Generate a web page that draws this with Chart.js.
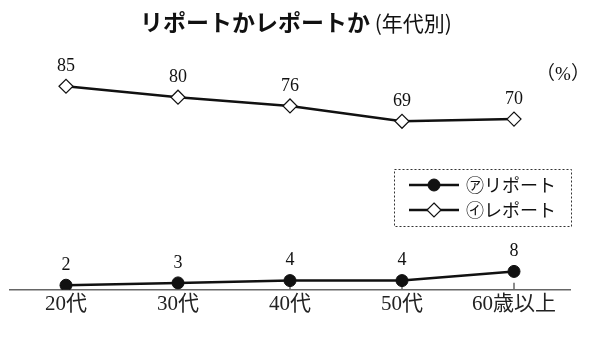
<!DOCTYPE html>
<html>
<head>
<meta charset="utf-8">
<script src="https://cdn.jsdelivr.net/npm/chart.js@4"></script>
<style>
  html, body { margin: 0; padding: 0; background: #fff; }
  #wrap { width: 600px; height: 341px; }
</style>
</head>
<body>
<div id="wrap"><canvas id="chart"></canvas></div>
<script>
const categories = ['20代', '30代', '40代', '50代', '60歳以上'];
const reportA = [2, 3, 4, 4, 8];       // ㋐リポート
const reportI = [85, 80, 76, 69, 70];  // ㋑レポート
const seriesNames = ['㋐リポート', '㋑レポート'];

const serif = "'Liberation Serif', 'Noto Sans CJK JP', serif";
const gothic = "'Noto Sans CJK JP', sans-serif";

// title, unit, value labels, tick marks and legend box
const decor = {
  id: 'decor',
  beforeDatasetsDraw(chart) {
    const ctx = chart.ctx;
    const x = chart.scales.x;
    const base = chart.chartArea.bottom;
    ctx.save();
    ctx.strokeStyle = '#666';
    ctx.lineWidth = 1.5;
    categories.forEach((c, i) => {
      const px = x.getPixelForValue(i);
      ctx.beginPath();
      ctx.moveTo(px, base);
      ctx.lineTo(px, base - 7);
      ctx.stroke();
    });
    ctx.restore();
  },
  afterDatasetsDraw(chart) {
    const ctx = chart.ctx;
    ctx.save();

    // title
    const t1 = 'リポートかレポートか';
    const t2 = ' (年代別)';
    ctx.textBaseline = 'middle';
    ctx.fillStyle = '#111';
    ctx.font = 'bold 23px ' + gothic;
    const w1 = ctx.measureText(t1).width;
    ctx.font = '21px ' + gothic;
    const w2 = ctx.measureText(t2).width;
    const tx = 296 - (w1 + w2) / 2;
    ctx.font = 'bold 23px ' + gothic;
    ctx.textAlign = 'left';
    ctx.fillText(t1, tx, 22);
    ctx.font = '21px ' + gothic;
    ctx.fillText(t2, tx + w1, 23);

    // unit
    ctx.font = '19px ' + serif;
    ctx.textAlign = 'center';
    ctx.fillText('（%）', 563, 75);

    // value labels
    ctx.font = '18px ' + serif;
    chart.data.datasets.forEach((ds, di) => {
      chart.getDatasetMeta(di).data.forEach((pt, i) => {
        ctx.fillText(String(ds.data[i]), pt.x, pt.y - 20);
      });
    });

    // legend
    const lx = 394, ly = 169, lw = 177, lh = 57;
    ctx.setLineDash([2, 2]);
    ctx.strokeStyle = '#333';
    ctx.lineWidth = 1;
    ctx.strokeRect(lx + 0.5, ly + 0.5, lw, lh);
    ctx.setLineDash([]);
    const rows = [185, 210];
    chart.data.datasets.forEach((ds, di) => {
      const y = rows[di];
      ctx.strokeStyle = ds.borderColor;
      ctx.lineWidth = ds.borderWidth;
      ctx.beginPath();
      ctx.moveTo(409, y);
      ctx.lineTo(459, y);
      ctx.stroke();
      ctx.fillStyle = ds.pointBackgroundColor;
      ctx.strokeStyle = ds.pointBorderColor;
      ctx.lineWidth = ds.pointBorderWidth;
      ctx.beginPath();
      const r = ds.pointRadius;
      if (ds.pointStyle === 'circle') {
        ctx.arc(434, y, r, 0, Math.PI * 2);
      } else {
        ctx.moveTo(434, y - r); ctx.lineTo(434 + r, y);
        ctx.lineTo(434, y + r); ctx.lineTo(434 - r, y); ctx.closePath();
      }
      ctx.fill();
      ctx.stroke();
      ctx.fillStyle = '#111';
      ctx.font = '18px ' + gothic;
      ctx.textAlign = 'left';
      ctx.fillText(ds.label, 466, y);
    });
    ctx.restore();
  }
};

new Chart(document.getElementById('chart'), {
  type: 'line',
  data: {
    labels: categories,
    datasets: [
      {
        label: seriesNames[0],
        data: reportA,
        yAxisID: 'yLow',
        borderColor: '#111',
        borderWidth: 2.5,
        pointStyle: 'circle',
        pointRadius: 6,
        pointBackgroundColor: '#111',
        pointBorderColor: '#111',
        pointBorderWidth: 1
      },
      {
        label: seriesNames[1],
        data: reportI,
        yAxisID: 'yHigh',
        borderColor: '#111',
        borderWidth: 2.5,
        pointStyle: 'rectRot',
        pointRadius: 7,
        pointBackgroundColor: '#fff',
        pointBorderColor: '#111',
        pointBorderWidth: 1.2
      }
    ]
  },
  options: {
    responsive: true,
    maintainAspectRatio: false,
    animation: false,
    layout: { padding: { top: 60, left: 10, right: 30, bottom: 22 } },
    plugins: {
      legend: { display: false },
      tooltip: { enabled: false }
    },
    scales: {
      x: {
        offset: true,
        grid: { display: false, drawTicks: false },
        border: { color: '#666', width: 1.5 },
        ticks: {
          color: '#222',
          padding: 2,
          font: { family: serif, size: 21 }
        }
      },
      yLow: { display: false, min: 0, max: 100 },
      yHigh: { display: false, min: -8, max: 97 }
    }
  },
  plugins: [decor]
});
</script>
</body>
</html>
